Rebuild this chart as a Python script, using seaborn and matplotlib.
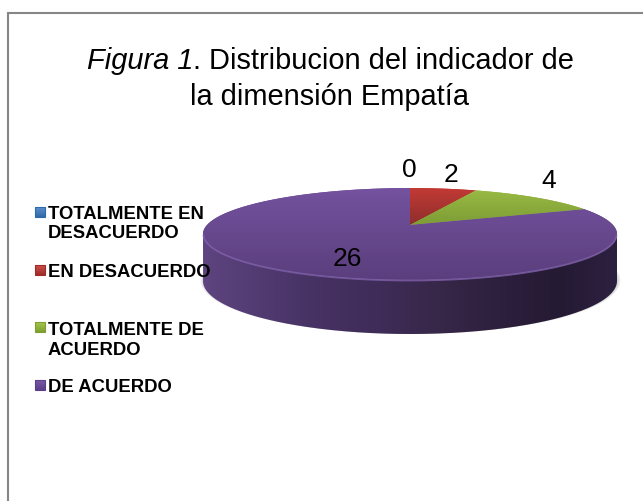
import numpy as np
import matplotlib
matplotlib.use("Agg")
import matplotlib.pyplot as plt
from matplotlib.path import Path
from matplotlib.transforms import Transform, Affine2D
from matplotlib.patches import Rectangle
import seaborn as sns

categories = ["TOTALMENTE EN\nDESACUERDO", "EN DESACUERDO", "TOTALMENTE DE\nACUERDO", "DE ACUERDO"]
values = [0, 2, 4, 26]
value_labels = ["0", "2", "4", "26"]
title_italic = "Figura 1"
title_rest = ". Distribucion del indicador de"
title_line2 = "la dimensión Empatía"

sns.set_theme(style="white")
plt.rcParams["font.family"] = ["Liberation Sans", "DejaVu Sans"]

W, H = 643, 502
CX, APEX_Y, K, B = 410.0, 226.0, 0.196, 44.2
RX = 203.0


class Perspective(Transform):
    """Unit pie plane seen in perspective, in picture pixel coordinates."""
    input_dims = 2
    output_dims = 2

    def transform_non_affine(self, xy):
        xy = np.asarray(xy, float)
        d = 1 + K * xy[:, 1]
        return np.column_stack([CX + RX * xy[:, 0] / d, APEX_Y - B * xy[:, 1] / d])

    def transform_path_non_affine(self, path):
        polys = path.to_polygons(Affine2D().scale(400), closed_only=True)
        if not polys:
            return Path(self.transform_non_affine(path.vertices), path.codes)
        return Path(self.transform_non_affine(polys[0] / 400.0))


fig = plt.figure(figsize=(W / 100, H / 100), dpi=100, facecolor="white")


def layer(z):
    ax = fig.add_axes([0, 0, 1, 1], zorder=z)
    ax.set_xlim(0, W)
    ax.set_ylim(H, 0)
    ax.set_autoscale_on(False)
    ax.axis("off")
    return ax


back = layer(0)
pie_ax = fig.add_axes([0, 0, 1, 1], zorder=1)
top = layer(2)
top.patch.set_alpha(0)

# chart frame: only its top and left edges fall inside the picture
back.plot([W, 8, 8], [13.5, 13.5, H], color="#868686", lw=1.5, solid_joinstyle="miter", zorder=0.5)

# soft shadow at the sides of the disc
yy, xx = np.mgrid[0:H, 0:W]
d = np.sqrt(((xx - CX) / 210.5) ** 2 + ((yy - 281.0) / 54.0) ** 2)
shadow = np.zeros((H, W, 4))
shadow[..., :3] = 0.35
shadow[..., 3] = np.clip((1.0 - d) / 0.03, 0, 1) * 0.5
back.imshow(shadow, extent=(0, W, H, 0), aspect="auto", zorder=1)

# side of the disc
t = np.linspace(0, np.pi, 240)
ex = CX + 207 * np.cos(t)
upper = 235 + 46 * np.sin(t)
lower = 282 + 53 * np.sin(t)
side_path = Path(np.column_stack([np.r_[ex, ex[::-1]], np.r_[upper, lower[::-1]]]))
side_cmap = sns.blend_palette(["#5E4480", "#503A70", "#463162", "#3F2C58", "#372748", "#2D1F3E", "#251A33", "#2C2040"],
                              256, as_cmap=True)
side_im = back.imshow(np.linspace(0, 1, 256)[None, :], cmap=side_cmap, extent=(203, 617, 335, 235),
                      aspect="auto", zorder=2)
side_im.set_clip_path(side_path, back.transData)

# pie slices, through the library's pie and then into perspective
colors = ["#4F81BD", "#BE3A36", "#8CAE3E", "#6A4A92"]
wedges, _ = pie_ax.pie(values, colors=colors, startangle=90, counterclock=False, radius=1,
                       wedgeprops={"linewidth": 0})
pie_ax.axis("off")
persp = Perspective() + top.transData
gradients = [
    ["#5F8CC4", "#3F6A9E"],
    ["#C23A35", "#8C2E2B"],
    ["#9ABB44", "#7C9C35"],
    ["#74529F", "#5A3E7C"],
]
for w in wedges:
    w.set_transform(persp)
    w.set_clip_on(False)
for w, grad, v in zip(wedges, gradients, values):
    if v == 0:
        continue
    cmap = sns.blend_palette(grad, 256, as_cmap=True)
    y0, y1 = (189, 227) if grad is not gradients[3] else (189, 282)
    im = top.imshow(np.linspace(0, 1, 256)[:, None], cmap=cmap, extent=(203, 617, y1, y0),
                    aspect="auto", zorder=1)
    im.set_clip_path(w)

# bright bevel along the front rim
t = np.linspace(0.02, np.pi - 0.02, 240)
top.plot(CX + 206.5 * np.cos(t), 235.5 + 46 * np.sin(t), color="#7C5EA6", lw=1.3, alpha=0.85, zorder=2)

# slice labels
for lab, (x, y) in zip(value_labels, [(409, 170.5), (451, 175.5), (549, 181.5), (347, 259.5)]):
    top.text(x, y, lab, fontsize=19, color="black", ha="center", va="center", zorder=4)

# title: italic lead-in followed by upright text on one baseline
renderer = fig.canvas.get_renderer()
TITLE_SIZE = 20.9
ital = top.text(87, 69, title_italic, fontsize=TITLE_SIZE, style="italic", color="black",
                ha="left", va="baseline", zorder=4)
x_end = top.transData.inverted().transform(ital.get_window_extent(renderer).get_points())[1, 0]
top.text(x_end, 69, title_rest, fontsize=TITLE_SIZE, color="black", ha="left", va="baseline", zorder=4)
top.text(329.5, 105, title_line2, fontsize=TITLE_SIZE, color="black", ha="center", va="baseline", zorder=4)

# legend
legend_colors = [("#2F6AA8", "#5E90CC"), ("#A02C2A", "#C8504C"), ("#7F9F30", "#A6C64E"), ("#5B3F88", "#7A5AA8")]
legend_marker_y = [213, 271, 328, 386]
legend_text_y = [224, 272.5, 340.5, 387.5]
for cat, (c0, c1), my, ty in zip(categories, legend_colors, legend_marker_y, legend_text_y):
    cm = sns.blend_palette([c1, c0], 64, as_cmap=True)
    top.imshow(np.linspace(0, 1, 64)[:, None], cmap=cm, extent=(34.5, 44.5, my + 5, my - 5),
               aspect="auto", zorder=3)
    top.add_patch(Rectangle((34.5, my - 5), 10, 10, fill=False, ec=c0, lw=0.8, zorder=3.5))
    top.text(48, ty, cat, fontsize=13.3, fontweight="bold", color="black", ha="left", va="center",
             linespacing=1.2, zorder=5)

fig.savefig("out.png", dpi=100, facecolor="white")
